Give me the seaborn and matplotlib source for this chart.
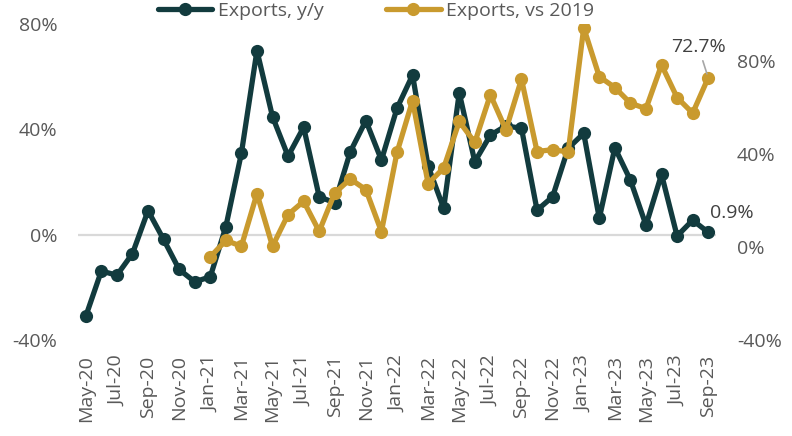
import numpy as np
import pandas as pd
import matplotlib
matplotlib.use("Agg")
import matplotlib.pyplot as plt
import seaborn as sns

months = ["May-20", "Jun-20", "Jul-20", "Aug-20", "Sep-20", "Oct-20", "Nov-20", "Dec-20",
          "Jan-21", "Feb-21", "Mar-21", "Apr-21", "May-21", "Jun-21", "Jul-21", "Aug-21",
          "Sep-21", "Oct-21", "Nov-21", "Dec-21", "Jan-22", "Feb-22", "Mar-22", "Apr-22",
          "May-22", "Jun-22", "Jul-22", "Aug-22", "Sep-22", "Oct-22", "Nov-22", "Dec-22",
          "Jan-23", "Feb-23", "Mar-23", "Apr-23", "May-23", "Jun-23", "Jul-23", "Aug-23",
          "Sep-23"]

exports_yy = [-31.0, -13.8, -15.4, -7.2, 9.1, -1.8, -13.2, -17.9,
              -16.0, 3.0, 30.9, 69.9, 44.8, 29.8, 40.8, 14.4,
              12.1, 31.5, 43.3, 28.3, 48.0, 60.6, 26.0, 10.0,
              53.9, 27.7, 37.8, 41.3, 40.4, 9.3, 14.4, 32.8,
              38.5, 6.2, 33.0, 20.7, 3.6, 22.9, -0.5, 5.5,
              0.9]

exports_vs2019 = [np.nan, np.nan, np.nan, np.nan, np.nan, np.nan, np.nan, np.nan,
                  -4.3, 2.8, 0.3, 22.9, 0.3, 13.9, 19.6, 6.7,
                  23.2, 29.2, 24.6, 6.6, 40.6, 62.9, 27.2, 33.9,
                  53.9, 44.9, 65.4, 50.3, 72.1, 41.0, 41.8, 40.8,
                  94.2, 73.2, 68.5, 61.8, 59.4, 78.2, 64.2, 57.5,
                  72.7]

left_ticks = [-40, 0, 40, 80]
right_ticks = [-40, 0, 40, 80]

DARK = "#123b3e"
GOLD = "#c99a2e"
GRAY = "#595959"
FS = 14

sns.set_theme(style="white")
plt.rcParams["font.family"] = ["Open Sans", "DejaVu Sans"]

df = pd.DataFrame({"idx": np.arange(len(months)), "yy": exports_yy, "vs": exports_vs2019})

fig = plt.figure(figsize=(7.92, 4.36), dpi=100)
ax = fig.add_axes([78 / 792, 1 - 340 / 436, (716 - 78) / 792, (340 - 24) / 436])
ax2 = ax.twinx()

ax.axhline(0, color="#d9d9d9", lw=1.6, zorder=0)

sns.lineplot(data=df, x="idx", y="yy", ax=ax, color=DARK, lw=3.8, marker="o",
             markersize=9.5, markeredgewidth=0, label="Exports, y/y", legend=False, zorder=3)
sns.lineplot(data=df.dropna(), x="idx", y="vs", ax=ax2, color=GOLD, lw=3.8, marker="o",
             markersize=9.5, markeredgewidth=0, label="Exports, vs 2019", legend=False, zorder=3)

ax.set_xlim(-0.5, len(months) - 0.5)
ax.set_ylim(-40, 80)
ax2.set_ylim(-40, 95.8)

ax.set_xticks(np.arange(0, len(months), 2))
ax.set_xticklabels(months[::2], rotation=90, fontsize=FS, color=GRAY)
ax.set_yticks(left_ticks)
ax.set_yticklabels([f"{t}%" for t in left_ticks], fontsize=FS, color=GRAY)
ax2.set_yticks(right_ticks)
ax2.set_yticklabels([f"{t}%" for t in right_ticks], fontsize=FS, color=GRAY)

ax.tick_params(axis="both", length=0)
ax.tick_params(axis="y", pad=15)
ax.tick_params(axis="x", pad=11)
ax2.tick_params(axis="y", length=0, pad=15)
ax.set_xlabel("")
ax.set_ylabel("")
ax2.set_ylabel("")
ax.grid(False)
ax2.grid(False)
for a in (ax, ax2):
    for s in a.spines.values():
        s.set_visible(False)

# Annotations
last = len(months) - 1
ax2.annotate(f"{exports_vs2019[-1]:.1f}%", xy=(last, exports_vs2019[-1]),
             xytext=(-7, 22), textcoords="offset points", ha="center", va="center",
             fontsize=FS, color="#404040",
             arrowprops=dict(arrowstyle="-", color="#a6a6a6", lw=1.2, shrinkA=1, shrinkB=3))
ax.annotate(f"{exports_yy[-1]:.1f}%", xy=(last, exports_yy[-1]),
            xytext=(17, 14), textcoords="offset points", ha="center", va="center",
            fontsize=FS, color="#404040")

# Legend
h1, l1 = ax.get_legend_handles_labels()
h2, l2 = ax2.get_legend_handles_labels()
leg = fig.legend(h1 + h2, l1 + l2, loc="center", bbox_to_anchor=(0.475, 0.975),
                 ncol=2, frameon=False, fontsize=FS, handlelength=2.8,
                 columnspacing=3.2, handletextpad=0.3, borderpad=0.2)
for t in leg.get_texts():
    t.set_color(GRAY)

fig.savefig("out.png", dpi=100)
